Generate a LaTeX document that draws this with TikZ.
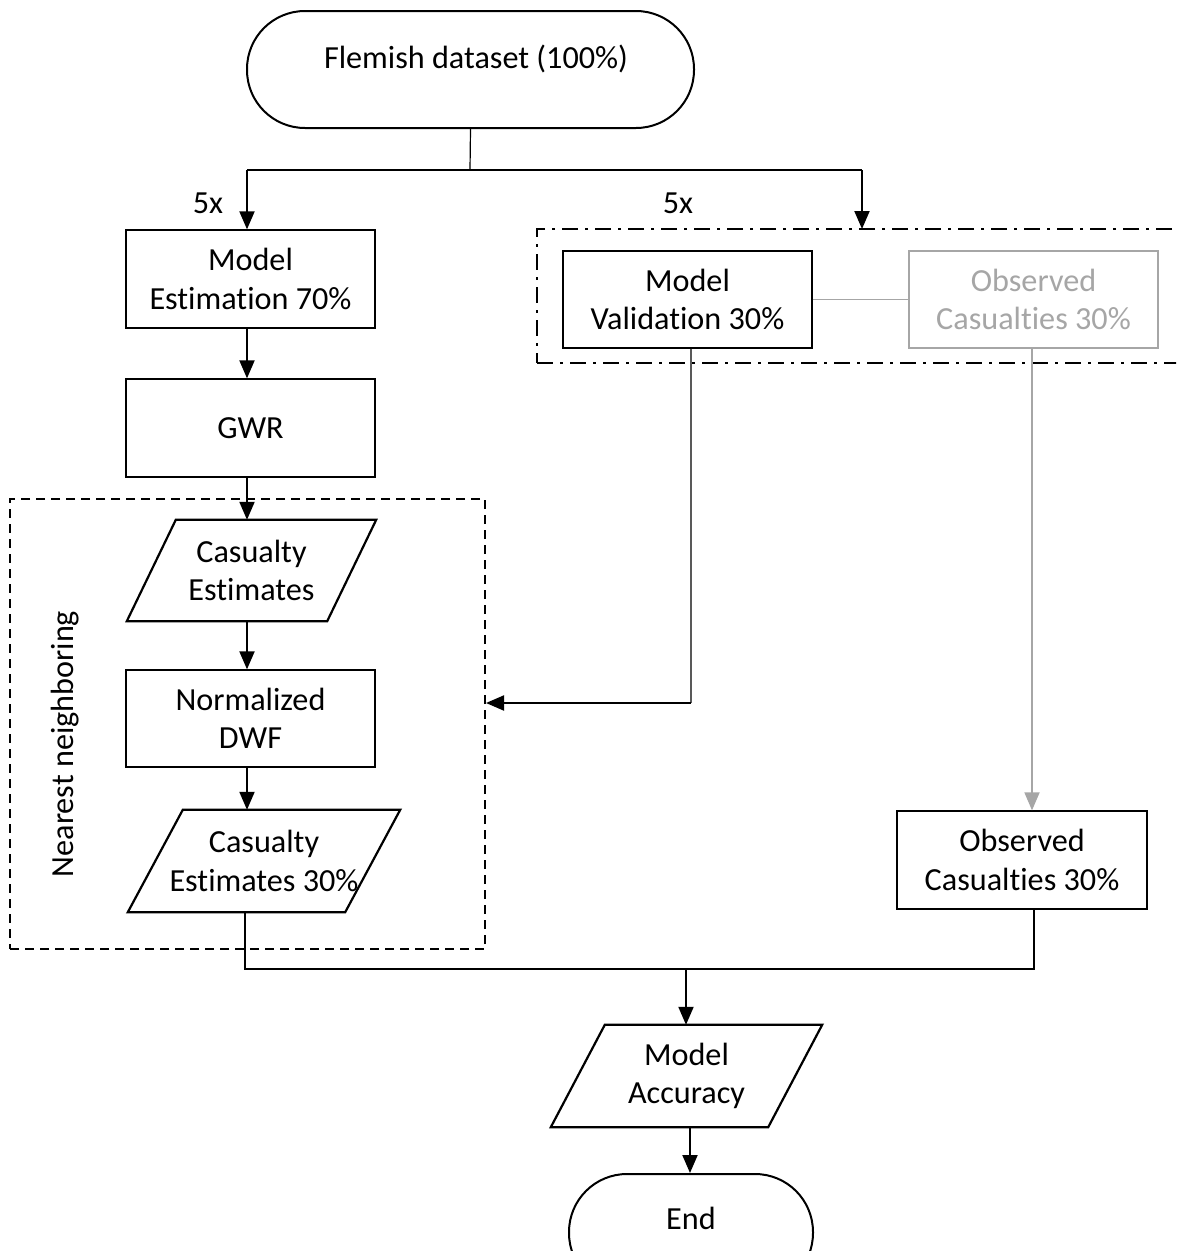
\documentclass[tikz,border=0pt]{standalone}
\usepackage{fontspec}
\setmainfont{Carlito}[RawFeature={-liga;-clig;-rlig;-dlig;-calt}]
\usetikzlibrary{arrows.meta}
\definecolor{lightgrey}{RGB}{166,166,166}
\definecolor{midgrey}{RGB}{89,89,89}
% slanted data box drawn around a named node: #1 node name, #2 horizontal slant
\newcommand\drawpara[2]{\draw[parashape] ([xshift=#2]#1.north west) -- (#1.north east) -- ([xshift=-#2]#1.south east) -- (#1.south west) -- cycle;}

\begin{document}
\begin{tikzpicture}[x=1pt,y=-1pt,
  every node/.style={font=\fontsize{32.2}{38.5}\selectfont, inner sep=0pt, align=center},
  rectbox/.style={draw, line width=1.3pt, minimum width=249pt, minimum height=98pt},
  terminal/.style={draw, line width=2pt, rounded corners=58pt, minimum width=#1, minimum height=117pt},
  paranode/.style={minimum width=#1, minimum height=101pt},
  parashape/.style={line width=2.2pt},
  arr/.style={line width=2pt, -{Triangle[length=18pt,width=15pt]}},
  conn/.style={line width=1.2pt},
  groupdashed/.style={draw, line width=2pt, dash pattern=on 9pt off 6pt},
  groupdashdot/.style={draw, line width=2.4pt, dash pattern=on 16pt off 7pt on 3pt off 7pt},
]
\useasboundingbox (0,0) rectangle (1176,1251);
\clip (0,0) rectangle (1176,1251);
\fill[white] (0,0) rectangle (1176,1251);

% helper columns and junctions
\coordinate (fork) at (470,170);
\coordinate (colx) at (247,0);
\coordinate (valin) at (862,229);
\coordinate (vturn) at (691,703);
\coordinate (obsx) at (1032,0);
\coordinate (jl) at (245,969);
\coordinate (jr) at (1034,969);
\coordinate (join) at (686,969);
\coordinate (accx) at (690,0);

% start terminal
\node[terminal=447pt] (start) at (470.5,69.5) {};
\node (starttext) at (476,59) {Flemish dataset (100\%)};

\node (rep1) at (208,203) {5x};
\node (rep2) at (678,203) {5x};

% left column: estimation branch
\node[rectbox] (est) at (250.5,279) {Model\\Estimation 70\%};
\node[rectbox] (gwr) at (250.5,428) {GWR};
\node[groupdashed, minimum width=475pt, minimum height=450pt] (nn) at (247.5,724) {};
\node[rotate=90] (nnlabel) at (65,744) {Nearest neighboring};
\node[paranode=249pt] (ce1) at (251.5,570.5) {Casualty\\Estimates};
\drawpara{ce1}{49pt}
\node[rectbox, minimum height=97pt] (norm) at (250.5,718.5) {Normalized\\DWF};
\node[paranode=272pt, minimum height=102pt] (ce2) at (264,861) {Casualty\\Estimates 30\%};
\drawpara{ce2}{55pt}

% right column: validation branch
\node[groupdashdot, minimum width=663pt, minimum height=134pt] (valgroup) at (868.5,296) {};
\node[rectbox, minimum height=97pt] (val) at (687.5,299.5) {Model\\Validation 30\%};
\node[rectbox, minimum height=97pt, draw=lightgrey, text=lightgrey] (obsg) at (1033.5,299.5) {Observed\\Casualties 30\%};
\node[rectbox, minimum width=250pt] (obs) at (1022,860) {Observed\\Casualties 30\%};

% result
\node[paranode=271pt, minimum height=102pt] (acc) at (686.5,1076) {Model\\Accuracy};
\drawpara{acc}{54pt}
\node[terminal=244pt] (end) at (691,1232.5) {};
\node (endtext) at (691,1218) {End};

% connectors
\draw[conn] (start.south) -- (fork);
\draw[conn] (fork -| colx) -- (fork -| valin);
\draw[arr] (fork -| colx) -- (est.north -| colx);
\draw[arr] (fork -| valin) -- (valin);
\draw[arr] (est.south -| colx) -- (gwr.north -| colx);
\draw[arr] (gwr.south -| colx) -- (ce1.north -| colx);
\draw[arr] (ce1.south -| colx) -- (norm.north -| colx);
\draw[arr] (norm.south -| colx) -- (ce2.north -| colx);

\draw[line width=1.2pt, lightgrey] (val.east) -- (obsg.west);
\draw[conn, midgrey] (val.south -| vturn) -- (vturn);
\draw[arr] (vturn) -- (vturn -| nn.east);
\draw[arr, lightgrey, line width=1.8pt] (obsg.south -| obsx) -- (obs.north -| obsx);

\draw[conn] (ce2.south -| jl) -- (jl) -- (jr) -- (obs.south -| jr);
\draw[arr] (join) -- (acc.north -| join);
\draw[arr] (acc.south -| accx) -- (end.north -| accx);
\end{tikzpicture}
\end{document}
